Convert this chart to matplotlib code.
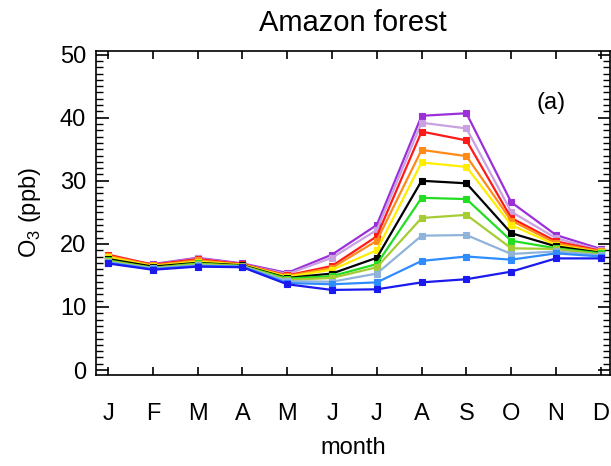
import matplotlib
matplotlib.use("Agg")
import matplotlib.pyplot as plt
from matplotlib.ticker import MultipleLocator

plt.rcParams["font.family"] = ["Liberation Sans", "DejaVu Sans"]
plt.rcParams["mathtext.fontset"] = "custom"
plt.rcParams["mathtext.rm"] = "Liberation Sans"

months = list(range(1, 13))
month_labels = ["J", "F", "M", "A", "M", "J", "J", "A", "S", "O", "N", "D"]

# one series per experiment, top (purple) to bottom (blue)
colors = ["#9b30d9", "#c9a0e0", "#ff1a1a", "#ff8a1a", "#ffee00", "#000000",
          "#22dd22", "#a6cc33", "#8fb3d9", "#2f8cff", "#1a1aee"]

o3 = [
    [17.8, 16.8, 17.8, 16.9, 15.4, 18.3, 23.0, 40.3, 40.7, 26.6, 21.4, 19.2],
    [17.9, 16.7, 17.7, 16.8, 15.2, 17.8, 22.2, 39.2, 38.3, 25.1, 20.9, 19.0],
    [18.3, 16.7, 17.6, 16.8, 15.0, 16.5, 21.2, 37.8, 36.4, 24.1, 20.4, 18.9],
    [18.1, 16.6, 17.4, 16.7, 14.9, 16.2, 20.5, 34.9, 33.9, 23.7, 20.1, 18.8],
    [17.9, 16.5, 17.2, 16.7, 14.8, 15.9, 19.0, 32.9, 32.2, 23.0, 19.8, 18.7],
    [17.6, 16.4, 17.0, 16.6, 14.6, 15.3, 17.8, 30.0, 29.6, 21.7, 19.6, 18.6],
    [17.4, 16.2, 16.9, 16.5, 14.5, 14.9, 16.8, 27.3, 27.1, 20.5, 19.3, 18.5],
    [17.3, 16.2, 16.8, 16.5, 14.3, 14.6, 16.3, 24.1, 24.6, 19.3, 19.2, 18.3],
    [17.1, 16.1, 16.6, 16.4, 14.1, 14.0, 15.3, 21.3, 21.4, 18.4, 18.8, 18.2],
    [17.0, 16.0, 16.5, 16.4, 13.8, 13.6, 13.9, 17.3, 18.0, 17.5, 18.5, 18.0],
    [16.9, 15.9, 16.4, 16.3, 13.6, 12.7, 12.8, 13.9, 14.4, 15.6, 17.7, 17.7],
]

fig = plt.figure(figsize=(6.11, 4.66), dpi=100)
ax = fig.add_axes([0.157, 0.195, 0.841, 0.696])

for c, vals in zip(colors, o3):
    ax.plot(months, vals, color=c, linewidth=1.6, marker="s", markersize=4.5,
            markeredgewidth=0.8)

ax.set_xlim(0.73, 12.2)
ax.set_ylim(-0.8, 50.6)
ax.set_xticks(months)
ax.set_xticklabels(month_labels)
ax.yaxis.set_major_locator(MultipleLocator(10))
ax.yaxis.set_minor_locator(MultipleLocator(1))
ax.tick_params(axis="both", which="both", direction="in", top=True, right=True,
               labelsize=17, width=1.2)
ax.tick_params(axis="x", which="major", length=6, pad=20)
ax.tick_params(axis="y", which="major", length=9, pad=7)
ax.tick_params(axis="y", which="minor", length=5, width=1.0)
for s in ax.spines.values():
    s.set_linewidth(1.2)

ax.set_title("Amazon forest", fontsize=21, pad=14)
ax.set_xlabel("month", fontsize=17, labelpad=9)
ax.set_ylabel("O$_3$ (ppb)", fontsize=17, labelpad=12)
ax.text(0.885, 0.84, "(a)", transform=ax.transAxes, fontsize=17,
        ha="center", va="center")

fig.savefig("out.png", dpi=100)
